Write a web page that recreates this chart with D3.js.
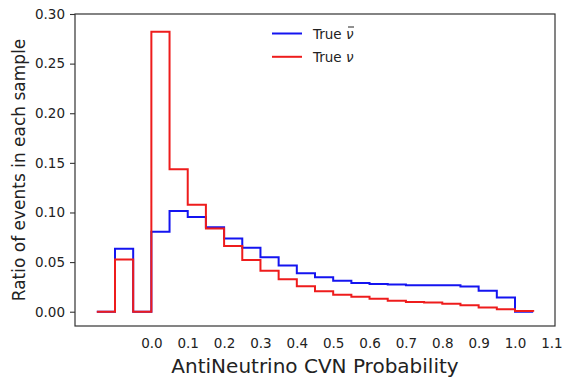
<!DOCTYPE html>
<html>
<head>
<meta charset="utf-8">
<script src="https://cdn.jsdelivr.net/npm/d3@7/dist/d3.min.js"></script>
<style>
  html, body { margin: 0; padding: 0; background: #fff; }
  svg text { font-family: "DejaVu Sans", sans-serif; fill: #222; }
</style>
</head>
<body>
<svg id="chart" width="564" height="377"></svg>
<script>
// Histogram bin left edges (width 0.05) for AntiNeutrino CVN probability
const binStarts = [-0.15, -0.10, -0.05, 0.00, 0.05, 0.10, 0.15, 0.20, 0.25, 0.30, 0.35, 0.40,
                   0.45, 0.50, 0.55, 0.60, 0.65, 0.70, 0.75, 0.80, 0.85, 0.90, 0.95, 1.00];
const binWidth = 0.05;

// Fraction of events per bin, each sample normalised to 1
const antiNuRatio = [0.000, 0.0635, 0.000, 0.0805, 0.1015, 0.0955, 0.0850, 0.0738, 0.0645, 0.0548,
                     0.0465, 0.0388, 0.0347, 0.0312, 0.0290, 0.0280, 0.0275, 0.0266, 0.0266, 0.0266,
                     0.0253, 0.0210, 0.0142, 0.000];
const nuRatio     = [0.000, 0.0525, 0.000, 0.2820, 0.1435, 0.1078, 0.0838, 0.0662, 0.0520, 0.0412,
                     0.0327, 0.0257, 0.0205, 0.0172, 0.0152, 0.0131, 0.0110, 0.0098, 0.0092, 0.0080,
                     0.0066, 0.0042, 0.0026, 0.0006];

const xTicks = [0.0, 0.1, 0.2, 0.3, 0.4, 0.5, 0.6, 0.7, 0.8, 0.9, 1.0, 1.1];
const yTicks = [0.00, 0.05, 0.10, 0.15, 0.20, 0.25, 0.30];

const series = [
  { name: "antinu", values: antiNuRatio, color: "#1414f0" },
  { name: "nu",     values: nuRatio,     color: "#ee1c1c" }
];

const svg = d3.select("#chart");
const plot = { left: 75, right: 555, top: 14, bottom: 326 };

const x = d3.scaleLinear().domain([-0.21, 1.11]).range([plot.left, plot.right]);
const y = d3.scaleLinear().domain([-0.0144, 0.30]).range([plot.bottom, plot.top]);

// Step outline of a histogram, closed to zero at both outer edges
function stepPoints(values) {
  const pts = [[binStarts[0], 0]];
  values.forEach((v, i) => {
    pts.push([binStarts[i], v]);
    pts.push([binStarts[i] + binWidth, v]);
  });
  pts.push([binStarts[binStarts.length - 1] + binWidth, 0]);
  return pts;
}

const line = d3.line().x(d => x(d[0])).y(d => y(d[1]));

svg.append("g").selectAll("path")
  .data(series)
  .join("path")
  .attr("d", d => line(stepPoints(d.values)))
  .attr("fill", "none")
  .attr("stroke", d => d.color)
  .attr("stroke-width", 2)
  .attr("stroke-linejoin", "miter");

// Frame
svg.append("rect")
  .attr("x", plot.left).attr("y", plot.top)
  .attr("width", plot.right - plot.left).attr("height", plot.bottom - plot.top)
  .attr("fill", "none").attr("stroke", "#333").attr("stroke-width", 1.2);

// Y axis
const yAxis = d3.axisLeft(y).tickValues(yTicks).tickFormat(d3.format(".2f")).tickSize(5).tickPadding(5);
const gy = svg.append("g").attr("transform", `translate(${plot.left},0)`).call(yAxis);
gy.select(".domain").remove();
gy.selectAll("line").attr("stroke", "#333").attr("stroke-width", 1.1);
gy.selectAll("text").style("font-size", "13.5px").attr("fill", "#222");

// X axis
const xAxis = d3.axisBottom(x).tickValues(xTicks).tickFormat(d3.format(".1f")).tickSize(0).tickPadding(12);
const gx = svg.append("g").attr("transform", `translate(0,${plot.bottom})`).call(xAxis);
gx.select(".domain").remove();
gx.selectAll("text").style("font-size", "13.5px").attr("fill", "#222");

// Axis titles
svg.append("text")
  .attr("x", (plot.left + plot.right) / 2).attr("y", 373)
  .attr("text-anchor", "middle")
  .style("font-size", "20px")
  .text("AntiNeutrino CVN Probability");

svg.append("text")
  .attr("transform", `translate(25,${(plot.top + plot.bottom) / 2}) rotate(-90)`)
  .attr("text-anchor", "middle")
  .style("font-size", "17px")
  .text("Ratio of events in each sample");

// Legend
const legendItems = [
  { label: "True ", sym: "ν", bar: true, color: series[0].color },
  { label: "True ", sym: "ν", bar: false, color: series[1].color }
];
const lg = svg.append("g").selectAll("g")
  .data(legendItems)
  .join("g")
  .attr("transform", (d, i) => `translate(272,${33.5 + i * 23.3})`);
lg.append("line")
  .attr("x1", 0).attr("x2", 30).attr("y1", 0).attr("y2", 0)
  .attr("stroke", d => d.color).attr("stroke-width", 2);
const lt = lg.append("text")
  .attr("x", 41).attr("y", 5)
  .style("font-size", "13.5px");
lt.append("tspan").text(d => d.label);
lt.append("tspan").style("font-style", "italic").text(d => d.sym);
// macron over the anti-neutrino symbol
lg.filter(d => d.bar).append("line")
  .attr("x1", 76).attr("x2", 82).attr("y1", -6.5).attr("y2", -6.5)
  .attr("stroke", "#222").attr("stroke-width", 1);
</script>
</body>
</html>
